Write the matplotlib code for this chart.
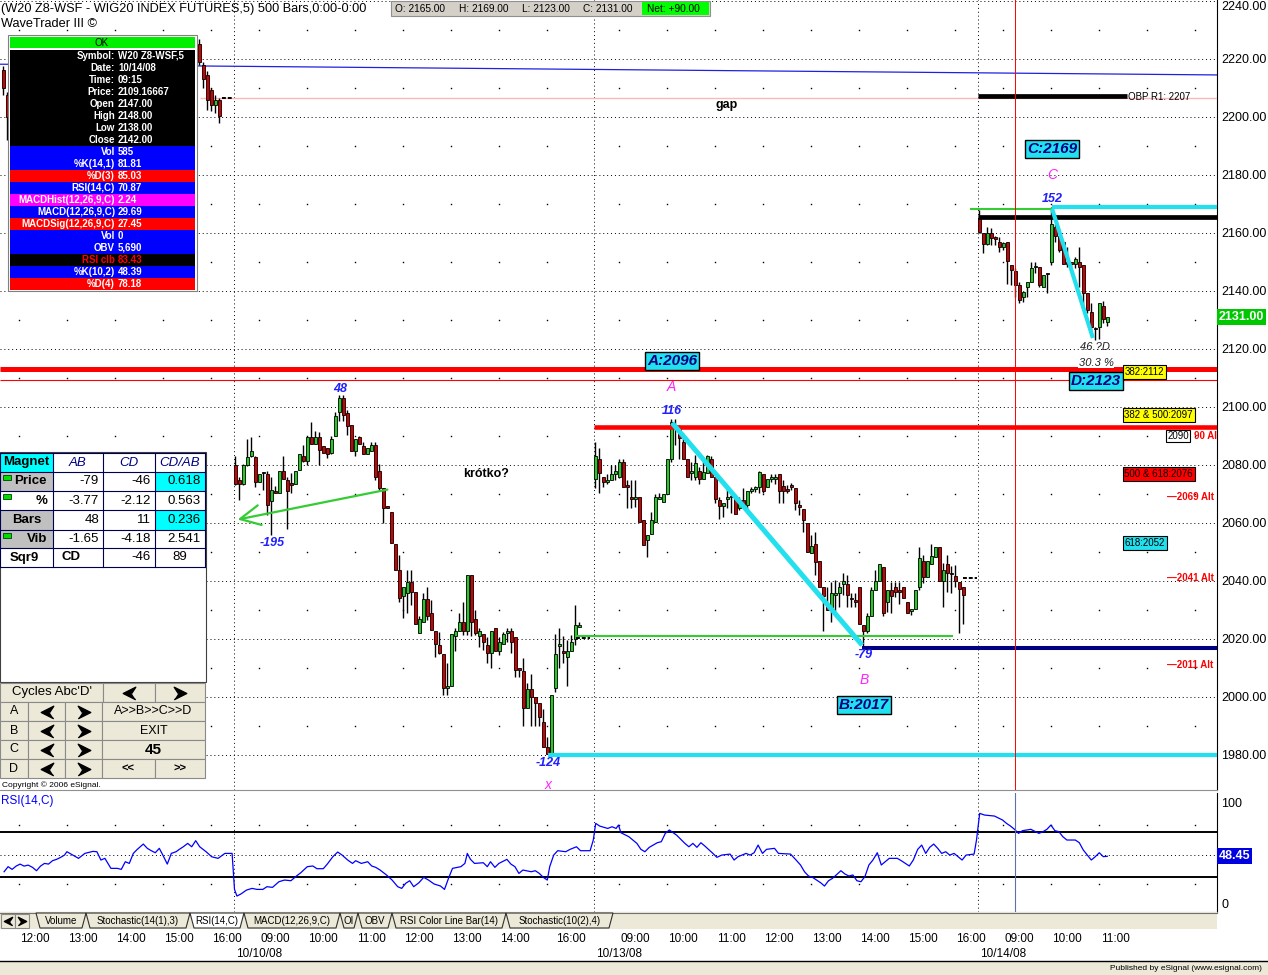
import numpy as np
import matplotlib
matplotlib.use('Agg')
import matplotlib.pyplot as plt
from matplotlib.patches import Rectangle, Polygon
import matplotlib.transforms as mtransforms

plt.rcParams['font.family'] = ['Liberation Sans', 'DejaVu Sans']

W, H = 1268, 975

# ---- 5-min bars, one list per field and session (slot = bar position on the x axis)
p_slots = [0, 1, 49, 50, 51, 52, 53, 54]
p_open = [2216.2, 2207.6, 2225.2, 2218.0, 2214.5, 2209.3, 2204.0, 2205.9]
p_high = [2217.5, 2208.5, 2227.0, 2219.0, 2216.0, 2210.0, 2207.6, 2206.5]
p_low = [2207.5, 2192.0, 2218.0, 2210.0, 2202.5, 2202.0, 2201.5, 2198.0]
p_close = [2210.0, 2200.0, 2219.0, 2213.0, 2206.0, 2204.1, 2206.0, 2200.5]

a_start = 58
a_open = [2080.0, 2074.8, 2073.3, 2080.0, 2083.1, 2082.9, 2074.0, 2077.7, 2076.8, 2067.6,
          2071.0, 2070.2, 2077.9, 2074.8, 2073.7, 2073.3, 2078.3, 2083.1, 2081.4, 2089.8,
          2087.1, 2089.8, 2086.7, 2085.7, 2084.0, 2090.0, 2098.2, 2103.0, 2097.8, 2093.8,
          2084.9, 2089.8, 2086.7, 2083.8, 2084.9, 2086.9, 2077.9, 2071.9, 2065.9, 2063.7,
          2052.7, 2043.8, 2034.8, 2036.0, 2039.8, 2036.1, 2022.0, 2026.0, 2033.7, 2028.9,
          2022.8, 2017.9, 2014.8, 2003.0, 2003.8, 2021.2, 2022.9, 2025.7, 2022.9, 2042.1,
          2026.8, 2021.2, 2021.6, 2017.9, 2015.1, 2023.7, 2016.0, 2018.2, 2022.0, 2022.8,
          2020.8, 2010.1, 2009.0, 1996.1, 2002.8, 2000.1, 1997.8, 1991.5, 1982.9, 1980.2,
          2003.0, 2017.6, 2015.8, 2013.9, 2016.0, 2020.0, 2024.0]
a_high = [2083.1, 2076.0, 2080.5, 2088.8, 2089.8, 2083.1, 2076.8, 2077.7, 2078.0, 2076.0,
          2072.8, 2077.9, 2083.0, 2075.9, 2077.1, 2077.9, 2083.8, 2086.9, 2089.8, 2094.7,
          2091.8, 2091.5, 2086.7, 2085.7, 2090.0, 2098.4, 2104.1, 2104.1, 2098.9, 2093.8,
          2088.8, 2090.0, 2088.0, 2085.7, 2088.0, 2088.0, 2080.2, 2071.9, 2065.9, 2063.7,
          2052.7, 2048.9, 2038.0, 2043.8, 2043.8, 2036.1, 2027.9, 2035.7, 2037.8, 2033.4,
          2022.8, 2022.5, 2014.8, 2011.6, 2021.6, 2023.7, 2029.1, 2032.9, 2042.1, 2042.1,
          2030.0, 2023.7, 2021.6, 2020.8, 2022.8, 2023.7, 2020.8, 2022.5, 2023.7, 2023.7,
          2020.8, 2010.1, 2013.3, 2004.7, 2007.9, 2000.1, 1997.8, 1995.7, 1986.3, 2000.7,
          2021.6, 2023.7, 2021.0, 2019.6, 2021.4, 2031.7, 2025.7]
a_low = [2073.0, 2068.0, 2073.0, 2079.7, 2082.9, 2072.3, 2074.0, 2071.4, 2062.7, 2055.9,
         2070.2, 2070.2, 2075.0, 2058.0, 2070.2, 2073.3, 2078.3, 2081.2, 2080.0, 2087.1,
         2087.1, 2080.0, 2084.0, 2082.3, 2083.8, 2090.0, 2095.0, 2095.0, 2090.3, 2084.9,
         2083.1, 2087.1, 2083.8, 2083.8, 2084.9, 2074.8, 2071.3, 2059.9, 2065.1, 2053.0,
         2043.8, 2032.9, 2027.1, 2028.8, 2031.7, 2025.0, 2022.0, 2026.0, 2026.6, 2023.1,
         2013.9, 2014.8, 2000.7, 2000.7, 2003.8, 2016.0, 2022.9, 2021.4, 2021.4, 2021.2,
         2021.4, 2017.1, 2016.2, 2011.6, 2010.1, 2016.0, 2014.5, 2018.2, 2019.1, 2015.1,
         2007.0, 2007.0, 1990.1, 1996.1, 1990.1, 1990.1, 1990.1, 1982.9, 1980.2, 1980.2,
         2001.8, 2010.1, 2011.6, 2003.9, 2016.0, 2018.0, 2024.0]
a_close = [2073.3, 2073.3, 2079.9, 2082.9, 2084.8, 2074.0, 2076.8, 2077.1, 2066.2, 2071.4,
           2070.2, 2077.9, 2075.0, 2071.1, 2073.1, 2077.9, 2083.8, 2081.4, 2089.8, 2087.1,
           2089.8, 2085.2, 2084.0, 2083.8, 2088.8, 2096.9, 2103.0, 2097.2, 2093.6, 2084.9,
           2088.8, 2087.1, 2083.8, 2085.7, 2086.9, 2076.0, 2071.9, 2065.1, 2065.1, 2053.0,
           2043.8, 2034.0, 2037.8, 2039.8, 2036.1, 2025.0, 2026.8, 2033.7, 2027.9, 2023.1,
           2018.2, 2015.1, 2003.0, 2003.8, 2021.6, 2022.8, 2025.7, 2022.9, 2042.1, 2026.0,
           2022.0, 2022.8, 2019.1, 2015.1, 2022.8, 2016.0, 2018.9, 2021.6, 2022.8, 2019.1,
           2009.3, 2009.3, 1996.1, 2002.8, 2000.1, 1998.0, 1993.0, 1982.9, 1980.2, 2000.7,
           2014.8, 2018.2, 2015.1, 2015.8, 2018.9, 2024.8, 2024.8]

b_start = 148
b_open = [2075.0, 2082.0, 2075.7, 2074.0, 2074.8, 2076.8, 2076.0, 2080.9, 2073.1, 2068.8,
          2068.3, 2068.8, 2061.0, 2054.1, 2056.2, 2060.2, 2068.3, 2067.1, 2070.0, 2082.1,
          2092.9, 2093.0, 2087.8, 2082.1, 2077.1, 2076.0, 2078.0, 2075.0, 2077.1, 2082.1,
          2076.0, 2067.9, 2066.0, 2068.2, 2069.3, 2069.1, 2065.1, 2067.9, 2066.2, 2071.0,
          2071.6, 2072.3, 2076.8, 2072.3, 2075.0, 2075.0, 2076.8, 2072.8, 2071.6, 2073.1,
          2071.9, 2066.2, 2064.8, 2059.9, 2049.5, 2052.7, 2046.9, 2037.8, 2031.7, 2031.2,
          2035.2, 2035.7, 2039.0, 2039.0, 2034.2, 2033.6, 2038.0, 2024.8, 2022.9, 2027.9,
          2036.9, 2040.0, 2044.7, 2032.9, 2036.9, 2037.8, 2036.8, 2037.8, 2032.6, 2029.5,
          2030.2, 2038.0, 2046.9, 2041.3, 2045.9, 2048.2, 2051.8, 2040.1, 2045.7, 2042.9,
          2041.8, 2039.8, 2038.0]
b_high = [2088.0, 2085.7, 2075.7, 2076.9, 2080.0, 2080.0, 2082.1, 2082.1, 2074.8, 2074.8,
          2074.8, 2068.8, 2061.0, 2055.8, 2063.9, 2070.0, 2070.2, 2070.0, 2082.1, 2095.7,
          2095.7, 2093.8, 2090.9, 2082.1, 2081.1, 2083.4, 2079.4, 2081.1, 2083.4, 2083.1,
          2076.0, 2069.1, 2066.8, 2071.9, 2070.2, 2069.1, 2069.1, 2071.9, 2071.0, 2072.3,
          2072.8, 2078.0, 2076.8, 2075.0, 2076.8, 2076.8, 2076.8, 2074.8, 2073.0, 2073.9,
          2071.9, 2067.9, 2064.8, 2059.9, 2055.9, 2057.0, 2046.9, 2037.8, 2038.0, 2039.8,
          2040.3, 2039.8, 2042.6, 2042.1, 2035.7, 2035.7, 2038.0, 2024.8, 2028.8, 2038.0,
          2043.8, 2045.7, 2044.7, 2036.9, 2039.8, 2039.8, 2039.8, 2037.8, 2032.6, 2030.3,
          2036.9, 2051.8, 2048.9, 2046.9, 2052.7, 2051.8, 2051.8, 2046.1, 2048.9, 2045.1,
          2045.5, 2039.8, 2038.0]
b_low = [2071.9, 2070.2, 2072.5, 2073.4, 2074.8, 2074.8, 2075.4, 2072.3, 2065.0, 2065.0,
         2065.6, 2060.2, 2052.4, 2048.4, 2056.2, 2060.2, 2068.3, 2067.1, 2070.0, 2081.1,
         2086.9, 2082.1, 2082.1, 2076.0, 2074.8, 2074.8, 2073.4, 2075.0, 2077.1, 2076.0,
         2067.0, 2061.3, 2062.2, 2065.0, 2063.3, 2063.0, 2064.5, 2065.1, 2064.5, 2070.2,
         2070.8, 2070.2, 2070.2, 2072.3, 2074.2, 2073.4, 2067.0, 2067.0, 2070.2, 2071.4,
         2064.5, 2062.8, 2057.0, 2050.1, 2049.5, 2042.1, 2038.0, 2022.9, 2029.9, 2026.0,
         2029.5, 2031.2, 2035.2, 2031.2, 2031.2, 2031.2, 2025.0, 2017.0, 2022.0, 2027.9,
         2036.9, 2040.0, 2027.9, 2029.4, 2029.1, 2034.6, 2032.0, 2034.0, 2029.1, 2028.3,
         2030.2, 2036.9, 2039.2, 2041.3, 2045.9, 2048.2, 2040.1, 2031.2, 2036.3, 2036.0,
         2038.0, 2022.0, 2025.0]
b_close = [2083.1, 2077.1, 2074.0, 2074.8, 2076.8, 2078.0, 2080.9, 2072.3, 2072.3, 2068.3,
           2068.8, 2060.2, 2052.4, 2055.8, 2061.0, 2068.8, 2068.8, 2070.0, 2082.1, 2094.7,
           2093.8, 2089.2, 2082.1, 2076.0, 2078.0, 2080.8, 2075.0, 2077.7, 2083.1, 2076.0,
           2068.2, 2066.0, 2066.8, 2069.1, 2068.8, 2063.0, 2067.9, 2066.0, 2071.0, 2071.6,
           2072.3, 2077.7, 2071.2, 2075.0, 2076.0, 2076.0, 2071.2, 2071.2, 2071.0, 2072.3,
           2067.0, 2065.6, 2061.0, 2050.1, 2052.2, 2046.7, 2038.0, 2034.9, 2030.0, 2035.7,
           2035.8, 2038.0, 2040.0, 2035.0, 2033.8, 2032.8, 2025.0, 2022.9, 2027.9, 2036.9,
           2040.0, 2045.7, 2029.1, 2036.9, 2034.9, 2036.1, 2036.3, 2034.0, 2029.1, 2030.3,
           2036.9, 2047.8, 2041.3, 2046.9, 2048.7, 2051.8, 2040.1, 2043.8, 2042.9, 2042.3,
           2040.1, 2037.1, 2035.0]

c_start = 244
c_open = [2165.0, 2160.1, 2156.1, 2159.9, 2158.7, 2157.0, 2155.3, 2156.8, 2149.0, 2147.0,
          2142.1, 2138.0, 2141.3, 2143.2, 2148.1, 2148.4, 2141.3, 2145.9, 2150.1, 2162.2,
          2159.0, 2157.0, 2150.1, 2150.1, 2149.2, 2150.1, 2149.0, 2139.2, 2132.9, 2127.4,
          2127.7, 2134.8, 2129.2]
c_high = [2168.0, 2160.1, 2162.2, 2161.6, 2158.9, 2158.7, 2156.8, 2157.0, 2149.0, 2148.0,
          2143.2, 2139.8, 2143.2, 2150.1, 2150.1, 2148.4, 2145.5, 2146.3, 2169.1, 2163.1,
          2159.0, 2157.0, 2155.3, 2150.1, 2151.6, 2155.3, 2149.0, 2139.2, 2135.9, 2127.7,
          2135.7, 2136.5, 2131.0]
c_low = [2160.0, 2153.2, 2155.9, 2155.9, 2155.9, 2153.6, 2154.1, 2142.4, 2142.1, 2138.0,
         2136.0, 2136.3, 2138.0, 2143.2, 2146.1, 2141.5, 2141.3, 2139.2, 2149.0, 2157.0,
         2153.6, 2149.3, 2148.4, 2148.4, 2148.0, 2141.5, 2134.8, 2132.5, 2126.0, 2123.0,
         2123.3, 2128.8, 2128.1]
c_close = [2160.5, 2156.1, 2159.9, 2158.2, 2157.8, 2155.3, 2156.6, 2150.3, 2147.2, 2142.0,
           2136.9, 2139.8, 2143.2, 2148.0, 2148.6, 2142.1, 2145.5, 2145.7, 2163.0, 2159.0,
           2154.1, 2149.3, 2149.3, 2149.2, 2151.0, 2148.4, 2139.2, 2133.5, 2127.7, 2126.8,
           2135.7, 2130.2, 2131.0]

# RSI(14,C)
rsi_slot = [0.2, 1.2, 2.2, 3.2, 4.2, 5.2, 6.2, 7.3, 8.3, 9.3, 10.3, 11.3, 12.3, 13.3, 14.3, 15.3,
            15.9, 17.4, 18.8, 20.4, 22.4, 23.4, 24.4, 25.4, 26.9, 28.5, 29.5, 30.5, 31.5, 32.5,
            33.5, 35.0, 36.0, 37.0, 38.0, 39.0, 40.0, 41.0, 42.0, 43.2, 44.0, 45.0, 46.1, 47.1,
            48.1, 49.1, 50.7, 52.1, 53.7, 55.4, 57.2, 57.8, 58.4, 59.4, 60.8, 62.2, 63.4, 64.9,
            65.9, 67.3, 68.9, 70.3, 71.9, 73.3, 74.4, 76.0, 77.4, 78.4, 80.0, 81.0, 82.4, 83.6,
            84.7, 86.1, 87.3, 88.1, 89.5, 91.1, 92.1, 93.1, 94.2, 95.8, 97.2, 98.6, 99.6, 100.6,
            101.6, 102.6, 103.9, 105.1, 106.3, 107.7, 109.3, 110.3, 111.3, 112.3, 114.4, 115.4,
            116.0, 116.8, 117.8, 120.0, 121.0, 121.8, 122.9, 123.9, 125.9, 126.9, 127.9, 128.9,
            129.9, 132.0, 133.0, 134.0, 135.0, 136.0, 136.6, 137.6, 138.6, 140.6, 141.7, 143.3,
            144.3, 146.7, 147.5, 148.1, 149.1, 151.1, 152.2, 153.2, 153.8, 154.4, 156.4, 158.4,
            159.4, 160.4, 161.5, 163.5, 164.5, 165.5, 166.5, 168.3, 170.4, 171.4, 172.4, 173.4,
            174.4, 175.4, 177.4, 178.4, 179.6, 181.7, 182.7, 183.7, 185.7, 186.7, 187.7, 188.7,
            189.8, 190.8, 192.8, 193.8, 196.8, 198.2, 199.3, 200.3, 201.3, 202.3, 203.3, 204.3,
            205.3, 206.3, 207.3, 209.4, 210.4, 211.4, 212.4, 213.4, 214.4, 215.4, 216.4, 217.4,
            218.5, 219.5, 220.5, 221.5, 223.5, 224.5, 226.5, 227.5, 228.6, 229.6, 230.6, 231.6,
            232.6, 233.6, 234.6, 235.6, 236.6, 237.7, 239.7, 240.7, 242.7, 243.3, 244.1, 245.3,
            247.8, 249.8, 250.8, 251.8, 252.8, 253.8, 254.8, 256.9, 258.9, 259.9, 260.9, 261.9,
            262.9, 263.9, 264.9, 265.9, 268.0, 269.0, 270.0, 271.0, 272.0, 273.0, 274.0, 275.0,
            276.0]
rsi_value = [34.7, 39.2, 36.8, 39.7, 41.5, 39.7, 40.6, 38.6, 35.6, 39.7, 42.1, 41.5, 44.5, 45.7, 47.4, 49.5,
             52.5, 49.5, 46.6, 51.0, 52.8, 52.5, 45.1, 46.6, 37.7, 37.7, 36.8, 43.6, 42.1, 51.0,
             54.6, 59.3, 55.5, 53.4, 51.6, 55.5, 48.7, 41.5, 51.0, 52.5, 54.6, 56.9, 59.9, 56.9,
             62.3, 56.9, 52.5, 48.0, 46.6, 51.0, 51.0, 19.0, 13.1, 14.9, 18.4, 19.9, 19.0, 19.0,
             21.4, 20.8, 25.8, 27.3, 26.7, 30.9, 33.9, 39.2, 39.8, 37.4, 37.4, 41.5, 48.1, 52.2,
             49.5, 45.1, 42.1, 44.5, 42.1, 43.6, 39.8, 38.6, 36.2, 31.8, 27.3, 21.4, 19.9, 24.4,
             26.7, 21.4, 24.9, 29.7, 27.3, 23.8, 22.0, 19.0, 28.8, 37.7, 39.2, 42.1,
             51.0, 45.7, 42.1, 42.7, 39.2, 43.6, 38.6, 42.1, 45.7, 41.5, 39.2, 33.2,
             36.2, 34.7, 35.6, 33.2, 29.7, 27.3, 39.2, 49.5, 53.4, 52.5, 54.6, 56.9,
             53.4, 53.4, 62.9, 77.7, 75.3, 73.2, 74.7, 73.2, 76.2, 69.4, 65.8, 59.9,
             54.6, 52.5, 56.4, 60.5, 61.4, 68.8, 71.8, 67.3, 59.9, 56.9, 59.9, 56.4,
             60.5, 57.5, 51.0, 47.5, 49.5, 50.4, 45.1, 48.1, 51.0, 49.5, 51.6, 58.4,
             51.0, 54.6, 55.5, 51.0, 50.4, 45.1, 40.7, 34.7, 30.9, 29.7, 27.3, 25.0,
             22.0, 26.7, 28.8, 35.6, 32.7, 30.9, 31.8, 26.7, 25.8, 30.3, 40.7, 45.1,
             51.6, 40.7, 43.6, 46.6, 46.6, 44.5, 39.8, 45.1, 54.6, 58.4, 51.0, 56.4,
             59.3, 55.5, 51.0, 52.5, 49.5, 51.0, 45.1, 49.5, 50.4, 62.9, 86.6, 85.1,
             84.2, 80.7, 77.7, 75.3, 72.4, 68.8, 71.2, 72.4, 68.8, 70.3, 72.4, 76.2,
             71.2, 70.3, 65.8, 62.9, 62.9, 60.5, 54.0, 49.5, 45.1, 48.1, 51.6, 48.1,
             48.45]

time_slots = [8, 20, 32, 44, 56, 68, 80, 92, 104, 116, 128, 142, 158, 170, 182, 194, 206,
              218, 230, 242, 254, 266, 278]
time_labels = ['12:00', '13:00', '14:00', '15:00', '16:00', '09:00', '10:00', '11:00', '12:00',
               '13:00', '14:00', '16:00', '09:00', '10:00', '11:00', '12:00', '13:00', '14:00',
               '15:00', '16:00', '09:00', '10:00', '11:00']
date_slots = [64, 154, 250]
date_labels = ['10/10/08', '10/13/08', '10/14/08']
session_starts = [-2, 58, 148, 244]

price_ticks = list(range(1980, 2241, 20))
last_price = 2131.0
last_rsi = 48.45
cross_slot, cross_price = 253, 2109.16667

# ---- colours
GREEN, RED = '#22cc22', '#d00000'
CYAN = '#22e0ee'
BLUE_TXT = '#1f1fff'
MAG = '#ff22ff'
NAVY = '#000080'
FACE = '#ece9d8'

fig = plt.figure(figsize=(W / 100, H / 100), dpi=100)
fig.patch.set_facecolor('white')
ax = fig.add_axes([0, 1 - 790 / H, 1217 / W, 790 / H])
rx = fig.add_axes([0, 1 - 912 / H, 1217 / W, 119 / H], sharex=ax)
ov = fig.add_axes([0, 0, 1, 1], zorder=10)
ov.set_xlim(0, W)
ov.set_ylim(H, 0)
ov.axis('off')

x0, x1 = -3.3 / 4, (1217 - 3.3) / 4
ax.set_xlim(x0, x1)
ax.set_ylim(1967.93, 2240.34)
rx.set_ylim(-1.1, 104.7)

for a in (ax, rx):
    for side in ('left', 'top'):
        a.spines[side].set_visible(False)
    a.spines['right'].set_color('black')
    a.spines['bottom'].set_color('#909090')
    a.yaxis.tick_right()
    a.tick_params(axis='y', length=0, pad=3, labelsize=9)

# grid
dot = (0, (1, 3))
ax.hlines(price_ticks, x0, x1, colors='black', lw=0.7, linestyles=[dot], zorder=1)
dots_x = []
for s0, s1 in zip(session_starts, session_starts[1:] + [310]):
    dots_x += list(range(s0 + 6, s1, 12))
gx, gy = np.meshgrid(dots_x, np.arange(1990, 2240, 20))
ax.plot(gx.ravel(), gy.ravel(), ls='none', marker='s', ms=1.0, mew=0, color='black', zorder=1)
rgx, rgy = np.meshgrid(dots_x, [76, 24])
rx.plot(rgx.ravel(), rgy.ravel(), ls='none', marker='s', ms=1.0, mew=0, color='black', zorder=1)
for s in session_starts[1:]:
    ax.axvline(s - 0.3, color='black', lw=0.7, ls=dot, zorder=1)
    rx.axvline(s - 0.3, color='black', lw=0.7, ls=dot, zorder=1)


def candles(a, slots, o, h, l, c):
    slots = np.asarray(slots)
    o, h, l, c = map(np.asarray, (o, h, l, c))
    a.vlines(slots, l, h, color='black', lw=1.0, zorder=4)
    lo = np.minimum(o, c)
    hh = np.maximum(np.abs(c - o), 0.45)
    cols = np.where(c >= o, GREEN, RED)
    a.bar(slots, hh, 0.72, bottom=lo, color=cols, edgecolor='black', linewidth=0.6, zorder=5)


candles(ax, p_slots, p_open, p_high, p_low, p_close)
candles(ax, np.arange(a_start, a_start + len(a_open)), a_open, a_high, a_low, a_close)
candles(ax, np.arange(b_start, b_start + len(b_open)), b_open, b_high, b_low, b_close)
candles(ax, np.arange(c_start, c_start + len(c_open)), c_open, c_high, c_low, c_close)

# ---- levels and pattern legs
ax.plot([x0, x1], [2218.2, 2214.5], color='#2020e0', lw=0.9, zorder=3)
ax.hlines(2206.5, 49.2, x1, colors='#ffb8b8', lw=1.0, zorder=3)
ax.hlines(2207.2, 243.7, 281.0, colors='black', lw=3.4, zorder=6)
ax.hlines(2168.3, 241.7, 262.2, colors='#33cc33', lw=1.5, zorder=6)
ax.hlines(2169.0, 262.2, x1, colors=CYAN, lw=3.0, zorder=6)
ax.hlines(2165.5, 243.7, x1, colors='black', lw=3.4, zorder=6)
ax.hlines(2113.0, x0, x1, colors='#ff0000', lw=3.6, zorder=6)
ax.hlines(cross_price, x0, x1, colors='#ff0000', lw=0.8, zorder=6)
ax.hlines(2093.1, 147.7, x1, colors='#ff0000', lw=3.3, zorder=6)
ax.hlines(2021.0, 143.2, 237.4, colors='#33cc33', lw=1.5, zorder=6)
ax.hlines(2016.9, 214.7, x1, colors=NAVY, lw=2.9, zorder=6)
ax.hlines(1980.0, 136.2, x1, colors=CYAN, lw=3.0, zorder=6)
ax.plot([167.2, 214.7], [2094.5, 2017.9], color=CYAN, lw=3.6, zorder=6, solid_capstyle='butt')
ax.plot([262.2, 272.4], [2168.3, 2123.8], color=CYAN, lw=3.0, zorder=6, solid_capstyle='butt')
for y, s0, s1 in [(2206.6, 54.7, 57.2), (2020.3, 143.2, 146.7), (2041.0, 239.9, 243.4)]:
    ax.hlines(y, s0, s1, colors='black', lw=1.4, linestyles=[(0, (2, 1))], zorder=6)
ax.axvline(cross_slot, color='#ff0000', lw=0.7, zorder=6)
ax.annotate('', xy=(57.9, 2061.0), xytext=(96.7, 2071.7),
            arrowprops=dict(arrowstyle='->,head_length=0.9,head_width=0.45', color='#33cc33',
                            lw=1.6, mutation_scale=16), zorder=6)

# ---- labels on the price pane
lbl = dict(fontsize=9, style='italic', weight='bold', color=BLUE_TXT, ha='center', va='center', zorder=8)
ax.text(84.2, 2106.2, '48', **lbl)
ax.text(67.2, 2053.1, '-195', **lbl)
ax.text(136.2, 1977.2, '-124', **lbl)
ax.text(167.2, 2098.6, '116', **lbl)
ax.text(215.2, 2014.5, '-79', **lbl)
ax.text(262.2, 2171.7, '152', **lbl)
mg = dict(fontsize=10, style='italic', color=MAG, ha='center', va='center', zorder=8)
ax.text(136.2, 1969.6, 'x', **mg)
ax.text(167.0, 2106.9, 'A', **mg)
ax.text(215.2, 2005.9, 'B', **mg)
ax.text(262.2, 2180.0, 'C', **mg)
bx = dict(fontsize=11, style='italic', weight='bold', color=NAVY, ha='center', va='center', zorder=9,
          bbox=dict(boxstyle='square,pad=0.12', fc=CYAN, ec='black', lw=1.0))
ax.text(167.2, 2115.9, 'A:2096', **bx)
ax.text(215.2, 1997.2, 'B:2017', **bx)
ax.text(262.2, 2189.0, 'C:2169', **bx)
ax.text(273.2, 2109.0, 'D:2123', **bx)
ax.text(273.0, 2120.7, '46 ?D', fontsize=8, style='italic', color='#202020', ha='center',
        va='center', zorder=9)
ax.text(273.2, 2115.2, '30.3 %', fontsize=8, style='italic', color='#202020', ha='center',
        va='center', zorder=9, bbox=dict(boxstyle='square,pad=0.05', fc='white', ec='none'))
ax.text(180.9, 2204.1, 'gap', fontsize=9, weight='bold', ha='center', va='center', zorder=8)
ax.text(120.7, 2076.9, 'krótko?', fontsize=9, weight='bold', ha='center', va='center', zorder=8)
ax.text(281.2, 2206.9, 'OBP R1: 2207', fontsize=7, ha='left', va='center', zorder=8)

fib = dict(fontsize=7, ha='left', va='center', zorder=9)
ax.text(280.3, 2112.1, '382:2112', bbox=dict(boxstyle='square,pad=0.2', fc='#ffff00', ec='black', lw=0.8), **fib)
ax.text(280.3, 2097.2, '382 & 500:2097', bbox=dict(boxstyle='square,pad=0.2', fc='#ffff00', ec='black', lw=0.8), **fib)
ax.text(280.3, 2077.0, '500 & 618:2076', bbox=dict(boxstyle='square,pad=0.2', fc='#ff0000', ec='black', lw=0.8), **fib)
ax.text(280.3, 2053.0, '618:2052', bbox=dict(boxstyle='square,pad=0.2', fc=CYAN, ec='black', lw=0.8), **fib)
for lv in (2069, 2041, 2011):
    ax.text(290.9, lv, '\u2014%d Alt' % lv, fontsize=7, weight='bold', color='#ff0000', ha='left',
            va='center', clip_on=True, zorder=8)
ax.text(291.0, 2090.0, '2090', bbox=dict(boxstyle='square,pad=0.15', fc='white', ec='black', lw=0.8),
        **fib)
ax.text(297.7, 2090.0, '90 Alt', fontsize=7, weight='bold', color='#ff0000', ha='left',
        va='center', clip_on=True, zorder=8)

ax.set_yticks(price_ticks)
ax.set_yticklabels(['%.2f' % v for v in price_ticks])
ax.get_yticklabels()[-1].set_va('top')
tr = mtransforms.blended_transform_factory(ax.transAxes, ax.transData)
ax.text(1.0015, last_price, '%.2f' % last_price, transform=tr, fontsize=9, color='white', weight='bold',
        ha='left', va='center', clip_on=False, zorder=9,
        bbox=dict(boxstyle='square,pad=0.15', fc='#00c800', ec='none'))

# ---- RSI pane
rx.hlines([70, 30], x0, x1, colors='black', lw=1.4, zorder=2)
rx.hlines(50, x0, x1, colors='black', lw=0.7, linestyles=[dot], zorder=2)
rx.plot(rsi_slot, rsi_value, color='#0000ff', lw=0.9, zorder=3)
rx.axvline(cross_slot, color='#6070a8', lw=0.8, zorder=3)
rx.set_yticks([100, 0])
rx.set_yticklabels(['100', '0'])
rx.get_yticklabels()[0].set_va('top')
rx.get_yticklabels()[1].set_va('bottom')
rx.text(0.001, 0.93, 'RSI(14,C)', transform=rx.transAxes, fontsize=8.5, color='#0000ff',
        ha='left', va='center')
rtr = mtransforms.blended_transform_factory(rx.transAxes, rx.transData)
rx.text(1.0015, last_rsi, '%.2f' % last_rsi, transform=rtr, fontsize=9, color='white', weight='bold',
        ha='left', va='center', clip_on=False, zorder=9,
        bbox=dict(boxstyle='square,pad=0.15', fc='#0000e0', ec='none'))
rx.set_xticks(time_slots)
rx.set_xticklabels(time_labels, fontsize=8.5)
rx.tick_params(axis='x', length=0, pad=15)
ax.tick_params(axis='x', length=0, labelbottom=False)
dtr = mtransforms.blended_transform_factory(rx.transData, ov.transData)
for s, d in zip(date_slots, date_labels):
    ov.text(s, 954, d, transform=dtr, fontsize=8.5, ha='center', va='center')


# ---- overlay: panels, header, tabs
def box(xa, ya, xb, yb, fc, ec='none', lw=0.8, z=2):
    ov.add_patch(Rectangle((xa, ya), xb - xa, yb - ya, facecolor=fc, edgecolor=ec, linewidth=lw, zorder=z))


ov.text(1, 9, '(W20 Z8-WSF - WIG20 INDEX FUTURES,5) 500 Bars,0:00-0:00', fontsize=9.2,
        ha='left', va='center')
ov.text(1, 24, 'WaveTrader III \u00a9', fontsize=9.2, ha='left', va='center')
box(391, 1, 710, 16, '#d4d0c8', ec='#909090')
box(642, 2, 709, 15, '#00ff00')
for xt, t in [(395, 'O: 2165.00'), (459, 'H: 2169.00'), (522, 'L: 2123.00'), (583, 'C: 2131.00'),
              (647, 'Net: +90.00')]:
    ov.text(xt, 9, t, fontsize=7.3, ha='left', va='center', zorder=3)

# data window
info_labels = ['Symbol:', 'Date:', 'Time:', 'Price:', 'Open', 'High', 'Low', 'Close', 'Vol',
               '%K(14,1)', '%D(3)', 'RSI(14,C)', 'MACDHist(12,26,9,C)', 'MACD(12,26,9,C)',
               'MACDSig(12,26,9,C)', 'Vol', 'OBV', 'RSI clb', '%K(10,2)', '%D(4)']
info_values = ['W20 Z8-WSF,5', '10/14/08', '09:15', '2109.16667', '2147.00', '2148.00', '2138.00',
               '2142.00', '585', '81.81', '85.03', '70.87', '2.24', '29.69', '27.45', '0', '5,690',
               '83.43', '48.39', '78.18']
row_bg = ['#000000'] * 8 + ['#0000ff', '#0000ff', '#ff0000', '#0000ff', '#ff00ff', '#0000ff',
                            '#ff0000', '#0000ff', '#0000ff', '#000000', '#0000ff', '#ff0000']
box(8, 35, 197, 291, 'white', ec='#808080')
box(10, 37, 195, 48, '#00ee00')
ov.text(102, 42.5, 'OK', fontsize=7, ha='center', va='center', zorder=3)
for i, (lab, val, bg) in enumerate(zip(info_labels, info_values, row_bg)):
    yc = 56 + 12 * i
    box(10, yc - 6, 195, yc + 6, bg)
    col = '#ff0000' if lab == 'RSI clb' else 'white'
    ov.text(115, yc, lab, fontsize=7, weight='bold', color=col, ha='right', va='center', zorder=3)
    ov.text(118, yc, val, fontsize=7, weight='bold', color=col, ha='left', va='center', zorder=3)

# magnet table
box(0, 452, 206, 682, 'white', ec='#404040')
cols = [0, 53, 103, 155, 205]
rows = [453, 472, 491, 510, 530, 548, 567]
first_bg = ['#00ffff', '#c0c0c0', 'white', '#c0c0c0', '#c0c0c0', 'white']
box(0, rows[0], cols[1], rows[1], first_bg[0])
for r in range(1, 6):
    box(0, rows[r], cols[1], rows[r + 1], first_bg[r])
box(cols[3], rows[1], cols[4], rows[2], '#00ffff')
box(cols[3], rows[3], cols[4], rows[4], '#00ffff')
for yy in rows:
    ov.plot([0, 205], [yy, yy], color='#000050', lw=0.8, zorder=3)
for xx in cols:
    ov.plot([xx, xx], [rows[0], rows[-1]], color='#000050', lw=0.8, zorder=3)
for r in (1, 2, 4):
    box(3, rows[r] + 3, 11, rows[r] + 8, '#00dd00', ec='#004000', lw=0.6, z=4)
mid = [(rows[i] + rows[i + 1]) / 2 for i in range(6)]
ov.text(3, mid[0], 'Magnet', fontsize=9.5, weight='bold', ha='left', va='center', zorder=4)
for xc, t in [(78, 'AB'), (129, 'CD'), (180, 'CD/AB')]:
    ov.text(xc, mid[0], t, fontsize=9.5, style='italic', color=NAVY, ha='center', va='center', zorder=4)
ov.text(14, mid[1], 'Price', fontsize=9.5, weight='bold', ha='left', va='center', zorder=4)
ov.text(47, mid[2], '%', fontsize=9.5, weight='bold', ha='right', va='center', zorder=4)
ov.text(27, mid[3], 'Bars', fontsize=9.5, weight='bold', ha='center', va='center', zorder=4)
ov.text(47, mid[4], 'Vib', fontsize=9.5, weight='bold', ha='right', va='center', zorder=4)
ov.text(10, mid[5], 'Sqr9', fontsize=9.5, weight='bold', ha='left', va='center', zorder=4)
ov.text(62, mid[5], 'CD', fontsize=9.5, weight='bold', ha='left', va='center', zorder=4)
magnet_vals = [['-79', '-46', '0.618'], ['-3.77', '-2.12', '0.563'], ['48', '11', '0.236'],
               ['-1.65', '-4.18', '2.541']]
for r, vals in enumerate(magnet_vals, start=1):
    for c, v in enumerate(vals):
        ov.text(cols[c + 2] - 4, mid[r], v, fontsize=9.5, ha='right', va='center', zorder=4)
ov.text(151, mid[5], '-46', fontsize=9.5, ha='right', va='center', zorder=4)
ov.text(180, mid[5], '89', fontsize=9.5, ha='center', va='center', zorder=4)

# cycle buttons
right_arrow = [(-1, -1), (1, 0), (-1, 1), (-0.35, 0)]
left_arrow = [(1, -1), (-1, 0), (1, 1), (0.35, 0)]


def button(xa, ya, xb, yb, text=None, arrow=None, fs=9, weight='normal', ms=9):
    box(xa, ya, xb, yb, FACE, ec='#8a8a8a', lw=0.8, z=3)
    xc, yc = (xa + xb) / 2, (ya + yb) / 2
    if arrow is not None:
        ov.plot([xc], [yc], marker=arrow, ms=ms, color='black', ls='none', zorder=5)
    if text:
        ov.text(xc, yc, text, fontsize=fs, weight=weight, ha='center', va='center', zorder=5)


by = [683, 702, 721, 740, 759, 778]
button(0, by[0], 103, by[1], "Cycles Abc'D'", fs=9.5)
button(103, by[0], 155, by[1], arrow=left_arrow)
button(155, by[0], 205, by[1], arrow=right_arrow)
for i, (letter, right) in enumerate(zip('ABCD', ['A>>B>>C>>D', 'EXIT', '45', None]), start=1):
    button(0, by[i], 28, by[i + 1], letter)
    button(28, by[i], 65, by[i + 1], arrow=left_arrow)
    button(65, by[i], 102, by[i + 1], arrow=right_arrow)
    if right == '45':
        button(102, by[i], 205, by[i + 1], right, fs=11, weight='bold')
    elif right:
        button(102, by[i], 205, by[i + 1], right)
button(102, by[4], 155, by[5], '<<', fs=8, weight='bold')
button(155, by[4], 205, by[5], '>>', fs=8, weight='bold')
ov.text(2, 785, 'Copyright \u00a9 2006 eSignal.', fontsize=6, ha='left', va='center', zorder=4)

# indicator tabs
box(0, 912, 1217, 929, FACE, ec='none', z=2)
ov.plot([0, 1217], [912.5, 912.5], color='#707070', lw=0.8, zorder=3)
button(1, 914, 15, 928, arrow=left_arrow, ms=6)
button(15, 914, 29, 928, arrow=right_arrow, ms=6)
tabs = [('Volume', 36, 86), ('Stochastic(14(1),3)', 86, 190), ('RSI(14,C)', 190, 244),
        ('MACD(12,26,9,C)', 244, 340), ('OI', 340, 358), ('OBV', 358, 392),
        ('RSI Color Line Bar(14)', 392, 506), ('Stochastic(10(2),4)', 506, 613)]
for name, xa, xb in tabs:
    fc = 'white' if name == 'RSI(14,C)' else FACE
    ov.add_patch(Polygon([(xa, 913), (xb, 913), (xb - 4, 928), (xa + 4, 928)], closed=True,
                         facecolor=fc, edgecolor='#303030', lw=0.8, zorder=4))
    ov.text((xa + xb) / 2, 920.5, name, fontsize=7, ha='center', va='center', zorder=5)

# status bar
ov.plot([0, W], [961, 961], color='black', lw=1.0, zorder=3)
box(0, 962, W, 975, FACE, z=2)
ov.text(1262, 968, 'Published by eSignal (www.esignal.com)', fontsize=6, ha='right', va='center',
        zorder=4)

fig.savefig('out.png', dpi=100, facecolor='white')
